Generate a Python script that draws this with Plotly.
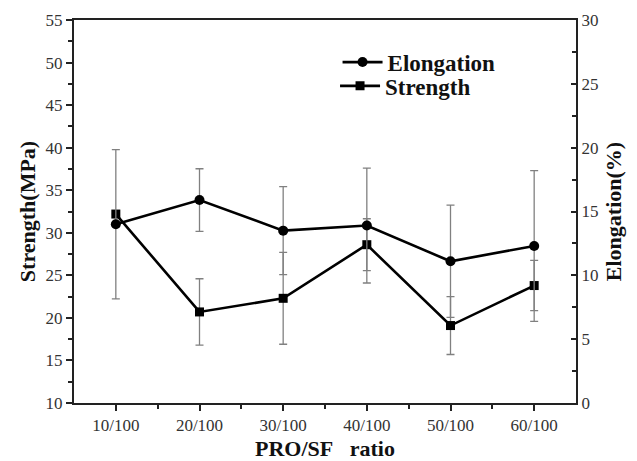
import plotly.graph_objects as go

categories = ["10/100", "20/100", "30/100", "40/100", "50/100", "60/100"]
elongation = [14.0, 15.9, 13.5, 13.9, 11.1, 12.3]
elongation_err = [5.85, 2.45, 3.45, 4.5, 4.4, 5.9]
strength = [32.2, 20.7, 22.3, 28.6, 19.1, 23.8]
strength_err = [0.0, 3.9, 5.4, 3.05, 3.4, 2.95]

xs = list(range(len(categories)))
FONT = "Liberation Serif"
ERRC = "#808080"

fig = go.Figure()
fig.add_trace(go.Scatter(
    x=xs, y=elongation, name="Elongation", yaxis="y2", legend="legend",
    mode="lines+markers",
    line=dict(color="black", width=2.6),
    marker=dict(symbol="circle", size=10, color="black"),
    error_y=dict(type="data", array=elongation_err, visible=True,
                 color=ERRC, thickness=1.3, width=4),
))
fig.add_trace(go.Scatter(
    x=xs, y=strength, name="Strength", yaxis="y", legend="legend2",
    mode="lines+markers",
    line=dict(color="black", width=2.6),
    marker=dict(symbol="square", size=9, color="black"),
    error_y=dict(type="data", array=strength_err, visible=True,
                 color=ERRC, thickness=1.3, width=4),
))

TITLE_FONT = dict(family=FONT, size=22, color="#111", weight="bold")
TICK_FONT = dict(family=FONT, size=17, color="#333")
LEG_FONT = dict(family=FONT, size=23, color="#111", weight="bold")

fig.update_layout(
    width=637, height=461,
    margin=dict(l=74, r=61, t=20, b=58),
    paper_bgcolor="white", plot_bgcolor="white",
    font=dict(family=FONT, color="#222", size=17),
    showlegend=True,
    legend=dict(x=0.525, y=0.890, xanchor="left", yanchor="middle",
                bgcolor="rgba(0,0,0,0)", font=LEG_FONT, itemwidth=40),
    legend2=dict(x=0.52, y=0.828, xanchor="left", yanchor="middle",
                 bgcolor="rgba(0,0,0,0)", font=LEG_FONT, itemwidth=40),
    xaxis=dict(
        range=[-0.5, 5.5], tickvals=xs, ticktext=categories,
        showline=True, linecolor="#222", linewidth=2, mirror=True,
        ticks="outside", ticklen=6, tickwidth=1.5, tickcolor="#222",
        showgrid=False, zeroline=False, automargin=False,
        tickfont=TICK_FONT,
        minor=dict(tickvals=[0.5, 1.5, 2.5, 3.5, 4.5], ticks="outside",
                   ticklen=4, tickwidth=1.5, tickcolor="#222"),
        title=dict(text="PRO/SF\u00a0\u00a0\u00a0ratio", font=TITLE_FONT),
    ),
    yaxis=dict(
        range=[10, 55], dtick=5, tick0=10,
        showline=True, linecolor="#222", linewidth=2,
        ticks="outside", ticklen=6, tickwidth=1.5, tickcolor="#222",
        showgrid=False, zeroline=False, automargin=True,
        tickfont=TICK_FONT,
        minor=dict(dtick=2.5, tick0=10, ticks="outside", ticklen=4,
                   tickwidth=1.5, tickcolor="#222"),
        title=dict(text="Strength(MPa)", font=TITLE_FONT, standoff=4),
    ),
    yaxis2=dict(
        range=[0, 30], dtick=5, tick0=0, overlaying="y", side="right",
        showline=True, linecolor="#222", linewidth=2,
        ticks="inside", ticklen=5, tickwidth=1.5, tickcolor="#222",
        showgrid=False, zeroline=False, automargin=True,
        tickfont=TICK_FONT,
        minor=dict(dtick=2.5, tick0=0, ticks="inside", ticklen=4,
                   tickwidth=1.5, tickcolor="#222"),
        title=dict(text="Elongation(%)", font=TITLE_FONT, standoff=8),
    ),
)

fig.write_html("out.html")
